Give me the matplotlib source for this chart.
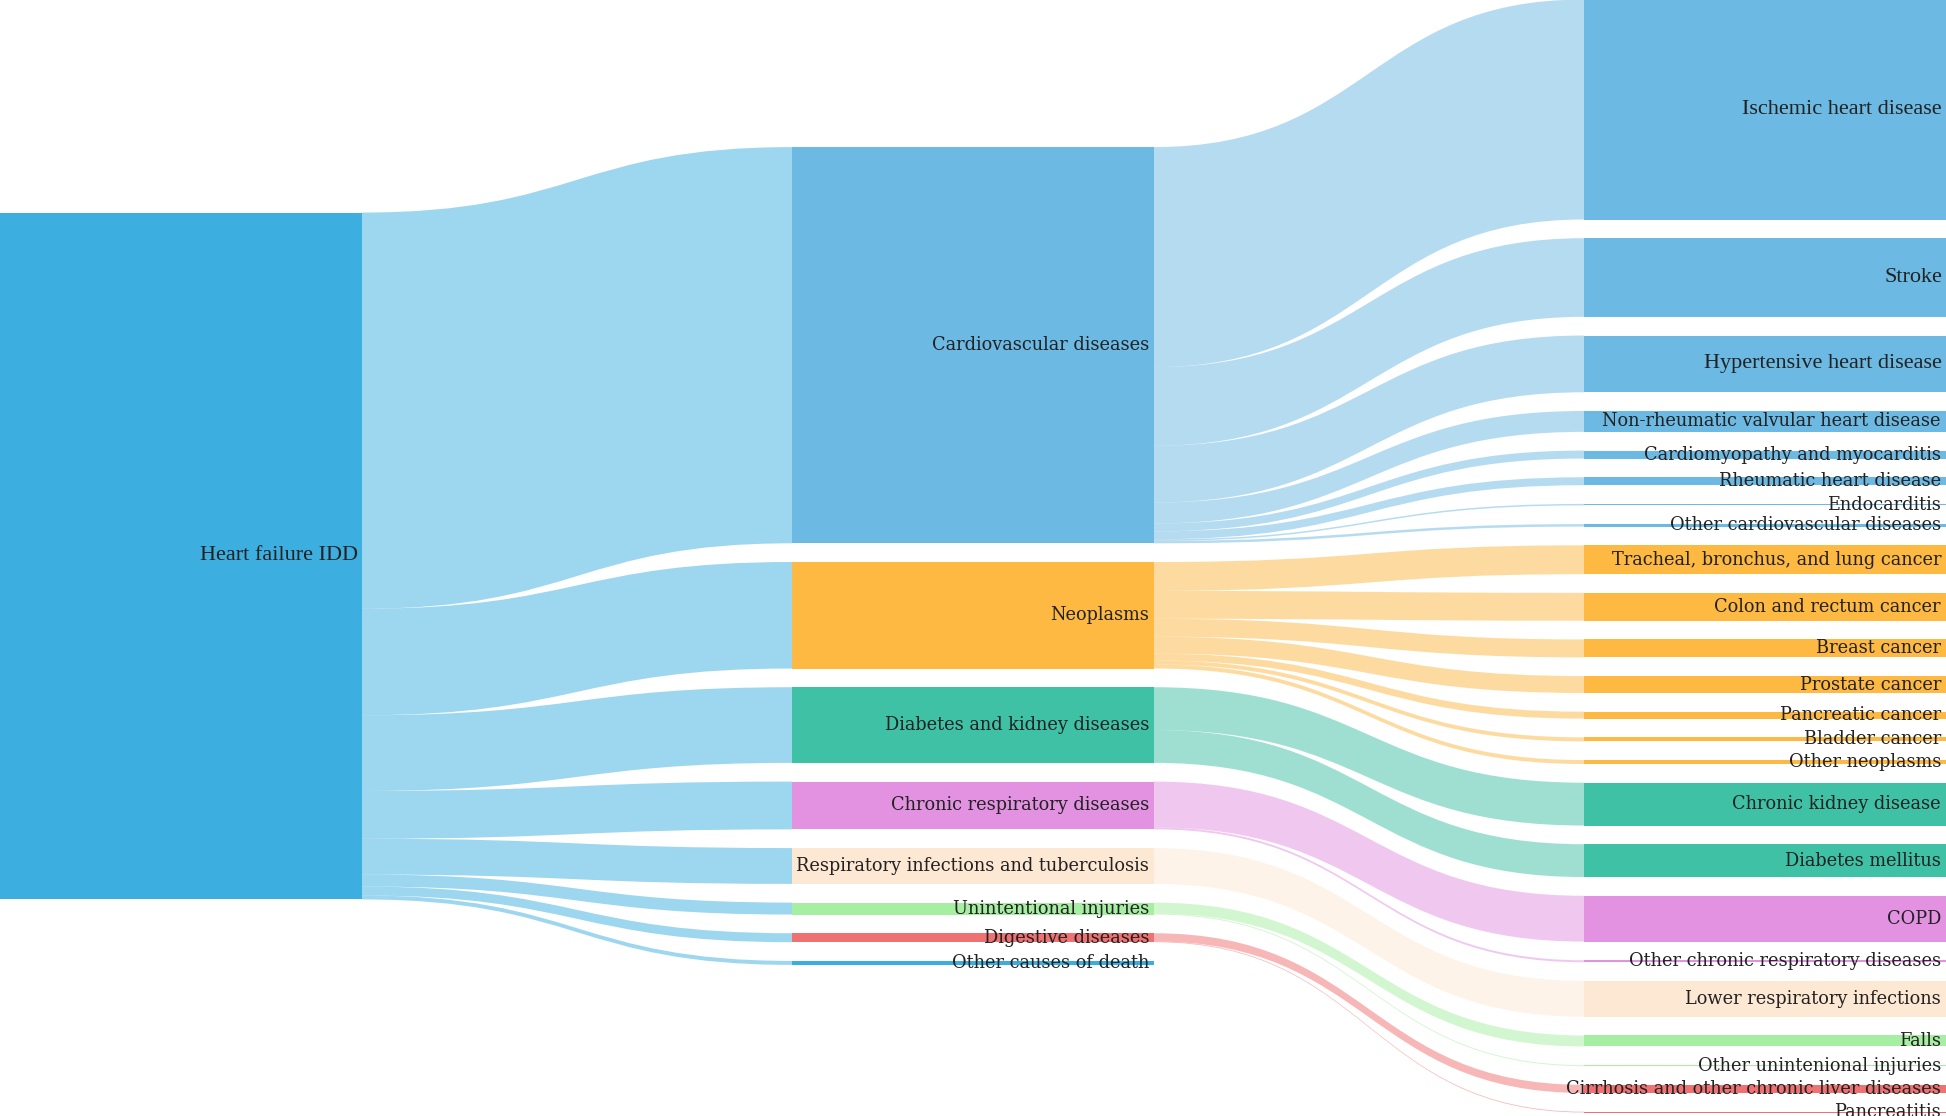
import matplotlib.pyplot as plt
from matplotlib.path import Path
from matplotlib.patches import PathPatch, Rectangle
from matplotlib.colors import to_rgba

# canvas in pixels
W, H = 1946, 1116

root_label = "Heart failure IDD"
root_color = "#3daee0"

groups = ["Cardiovascular diseases", "Neoplasms", "Diabetes and kidney diseases",
          "Chronic respiratory diseases", "Respiratory infections and tuberculosis",
          "Unintentional injuries", "Digestive diseases", "Other causes of death"]
group_values = [398, 107, 76, 48, 36, 12, 9, 4]
group_colors = ["#6cb9e3", "#fdb942", "#3fc1a6", "#e292e1", "#fde8d3",
                "#a6eea1", "#f07171", "#3aaee1"]

cause_names = [
    ["Ischemic heart disease", "Stroke", "Hypertensive heart disease",
     "Non-rheumatic valvular heart disease", "Cardiomyopathy and myocarditis",
     "Rheumatic heart disease", "Endocarditis", "Other cardiovascular diseases"],
    ["Tracheal, bronchus, and lung cancer", "Colon and rectum cancer", "Breast cancer",
     "Prostate cancer", "Pancreatic cancer", "Bladder cancer", "Other neoplasms"],
    ["Chronic kidney disease", "Diabetes mellitus"],
    ["COPD", "Other chronic respiratory diseases"],
    ["Lower respiratory infections"],
    ["Falls", "Other unintenional injuries"],
    ["Cirrhosis and other chronic liver diseases", "Pancreatitis"],
    [],
]
cause_values = [
    [221, 79, 57, 21, 8, 8, 1.5, 2.5],
    [29, 28, 18, 17, 7, 4, 4],
    [43, 33],
    [46, 2],
    [36],
    [11, 1],
    [8.2, 0.8],
    [],
]

# labels that the original renders taller / narrower
big_labels = [root_label, "Ischemic heart disease", "Stroke", "Hypertensive heart disease"]

node_w = 362
col_x = [0, 792, 1584]
gap = 18.7
usable = 1113
center = 556

col_vals = [[sum(group_values)], group_values, [v for vs in cause_values for v in vs]]
k = min((usable - gap * (len(c) - 1)) / sum(c) for c in col_vals)


def stack(vals):
    total = sum(vals) * k + gap * (len(vals) - 1)
    y = center - total / 2
    out = []
    for v in vals:
        out.append((y, y + v * k))
        y += v * k + gap
    return out


root_pos = stack(col_vals[0])[0]
group_pos = stack(col_vals[1])
cause_pos = stack(col_vals[2])


def band(ax, x0, x1, s0, s1, t0, t1, color):
    xm = (x0 + x1) / 2
    verts = [(x0, s0), (xm, s0), (xm, t0), (x1, t0), (x1, t1),
             (xm, t1), (xm, s1), (x0, s1), (x0, s0)]
    codes = [Path.MOVETO, Path.CURVE4, Path.CURVE4, Path.CURVE4, Path.LINETO,
             Path.CURVE4, Path.CURVE4, Path.CURVE4, Path.CLOSEPOLY]
    ax.add_patch(PathPatch(Path(verts, codes), facecolor=to_rgba(color, 0.5),
                           edgecolor='none', zorder=1))


def node(ax, x, y0, y1, color, label):
    ax.add_patch(Rectangle((x, y0), node_w, y1 - y0, facecolor=color,
                           edgecolor='none', zorder=2))
    if label in big_labels:
        ax.text(x + node_w - 4, (y0 + y1) / 2, label, ha='right', va='center',
                fontsize=16, color='#222222', zorder=3, family=['Liberation Serif'])
    else:
        ax.text(x + node_w - 5, (y0 + y1) / 2, label, ha='right', va='center',
                fontsize=12.8, color='#222222', zorder=3, family=['DejaVu Serif'])


fig = plt.figure(figsize=(W / 100, H / 100), dpi=100)
ax = fig.add_axes([0, 0, 1, 1])
ax.set_xlim(0, W)
ax.set_ylim(H, 0)
ax.axis('off')

# root -> groups
s = root_pos[0]
for gv, (g0, g1) in zip(group_values, group_pos):
    band(ax, col_x[0] + node_w, col_x[1], s, s + gv * k, g0, g1, root_color)
    s += gv * k

# groups -> causes
ci = 0
for gi, vals in enumerate(cause_values):
    s = group_pos[gi][0]
    for v in vals:
        t0, t1 = cause_pos[ci]
        band(ax, col_x[1] + node_w, col_x[2], s, s + v * k, t0, t1, group_colors[gi])
        s += v * k
        ci += 1

node(ax, col_x[0], root_pos[0], root_pos[1], root_color, root_label)
for g, c, (g0, g1) in zip(groups, group_colors, group_pos):
    node(ax, col_x[1], g0, g1, c, g)
ci = 0
for gi, names in enumerate(cause_names):
    for nm in names:
        t0, t1 = cause_pos[ci]
        node(ax, col_x[2], t0, t1, group_colors[gi], nm)
        ci += 1

fig.savefig("out.png", dpi=100)
